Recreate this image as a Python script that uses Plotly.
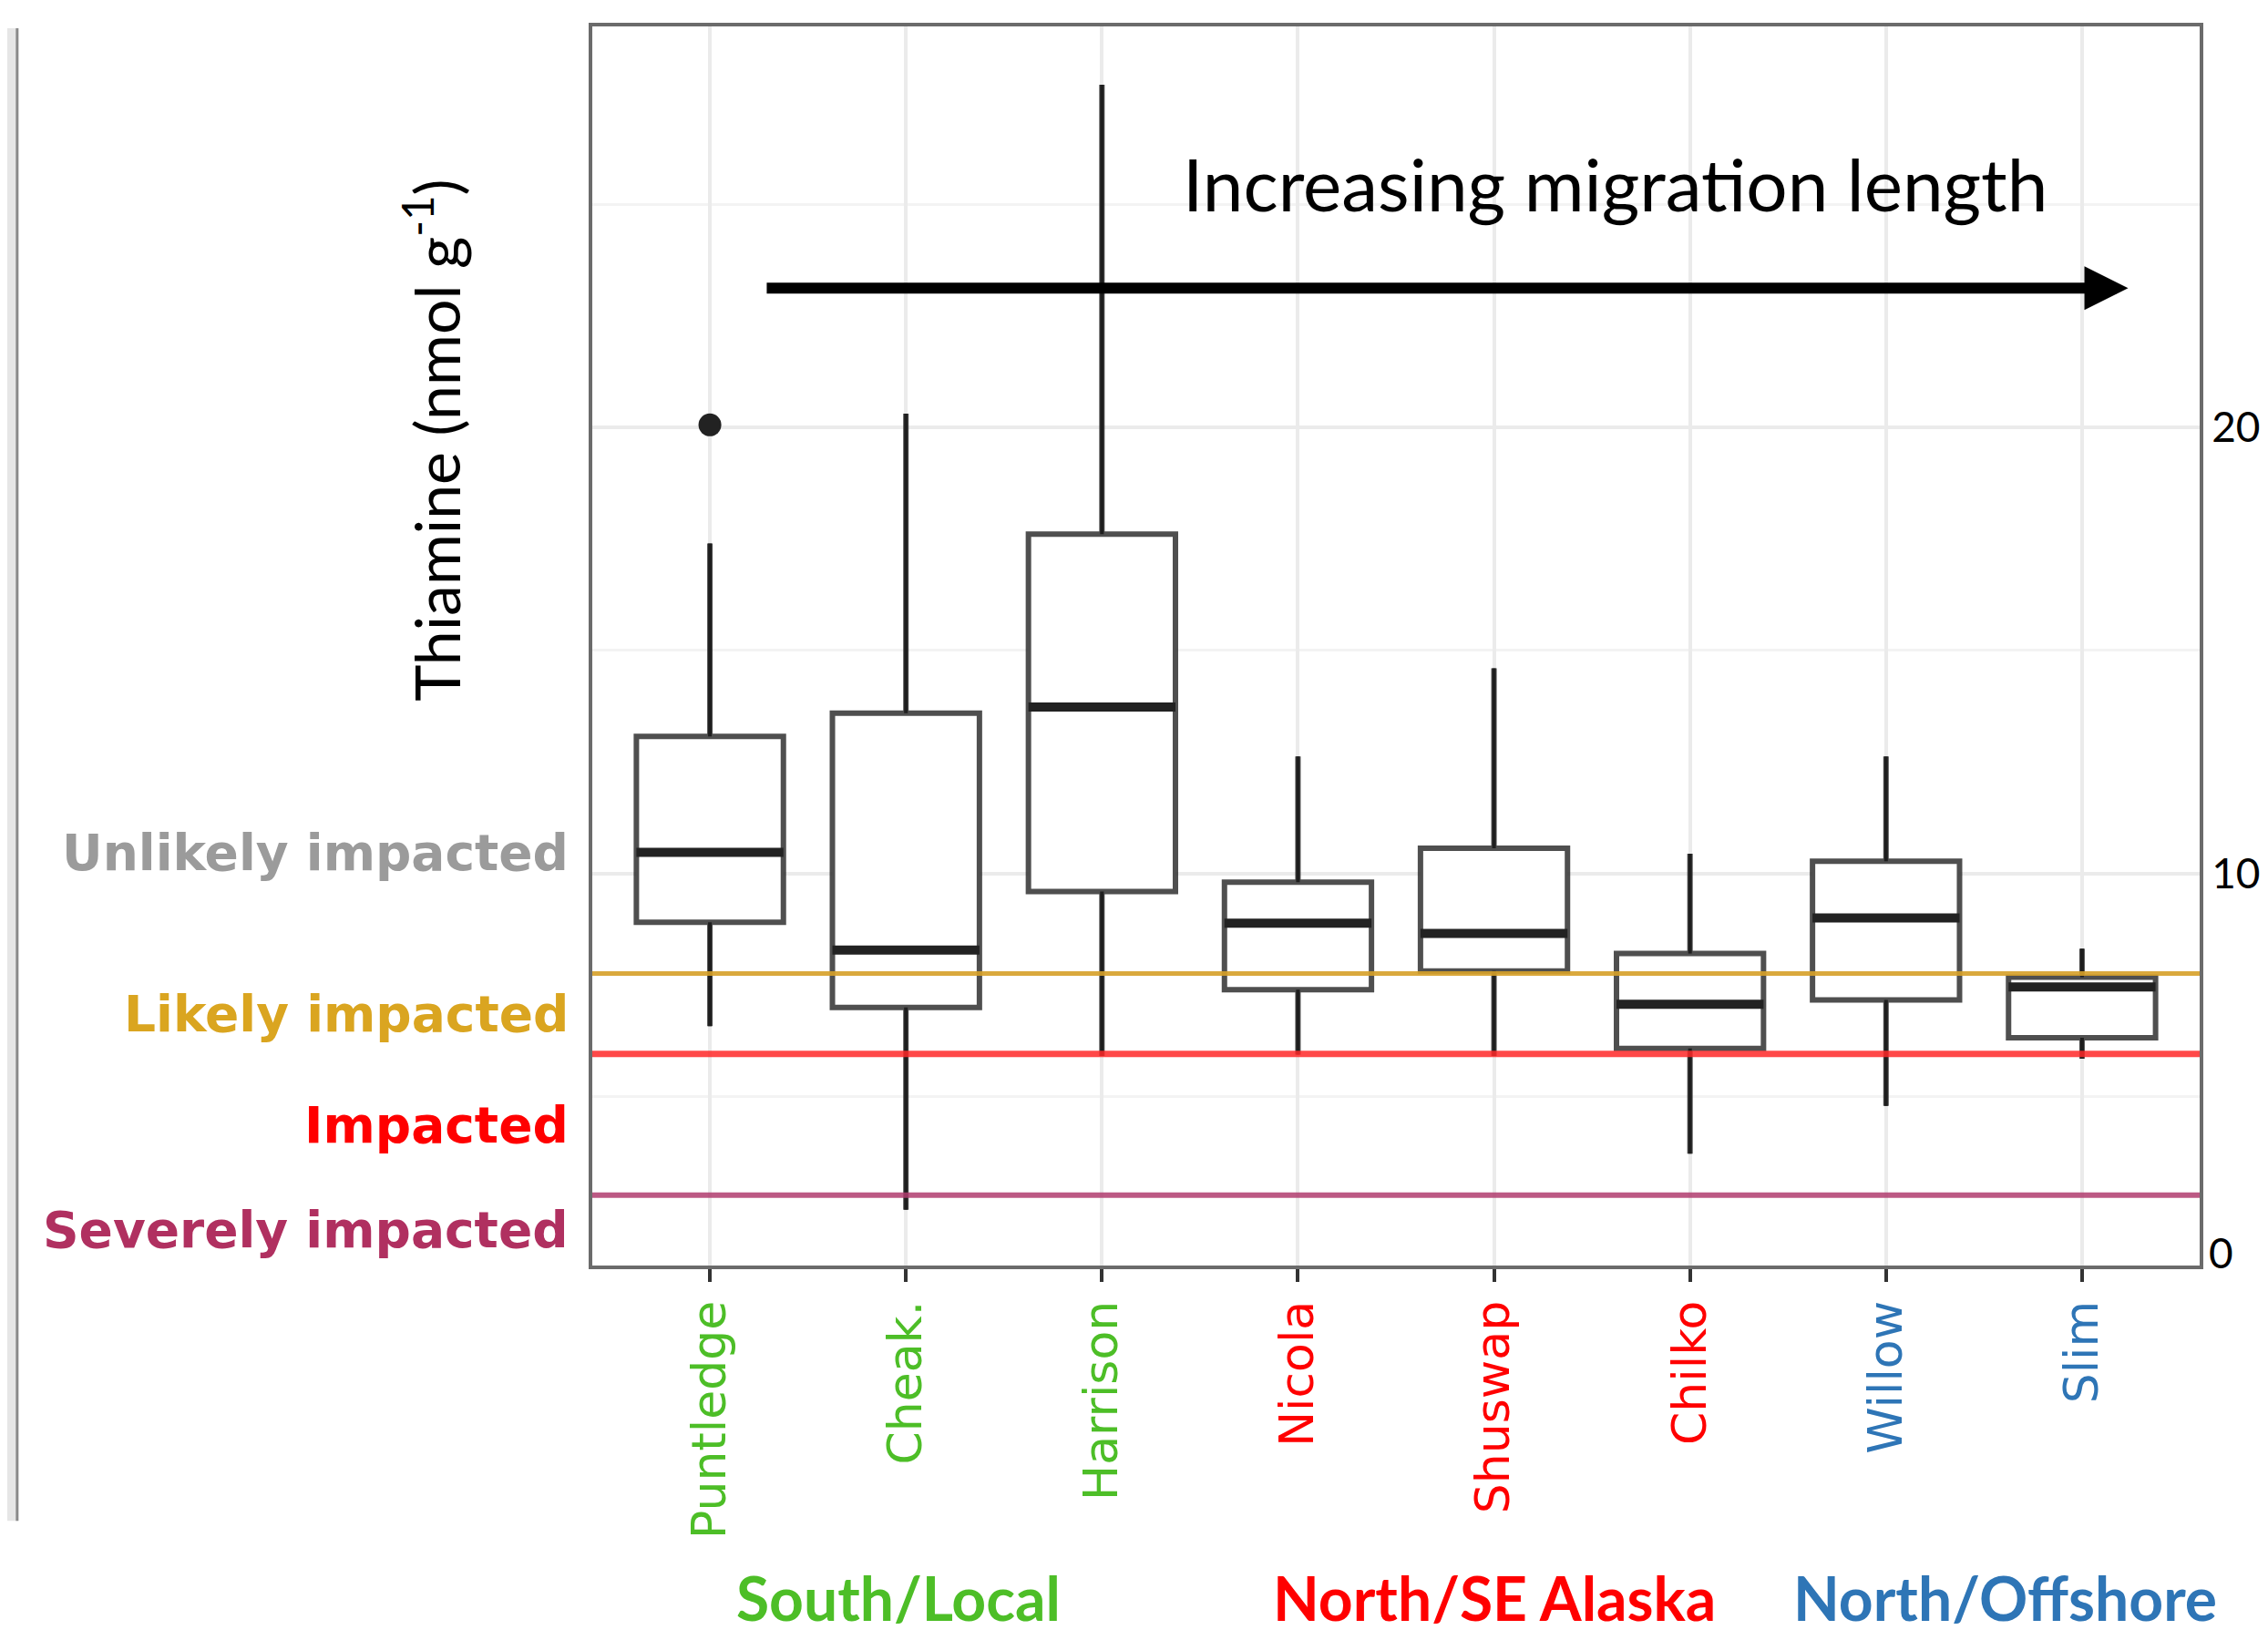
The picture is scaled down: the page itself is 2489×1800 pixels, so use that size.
import plotly.graph_objects as go

# ---- data ----
sites = ["Puntledge", "Cheak.", "Harrison", "Nicola", "Shuswap", "Chilko", "Willow", "Slim"]
site_colors = ["#4DBE27", "#4DBE27", "#4DBE27", "#FF0000", "#FF0000", "#FF0000", "#2E75B6", "#2E75B6"]
lower_whisker = [6.57, 2.45, 5.90, 5.93, 5.90, 3.71, 4.78, 5.84]
q1 = [8.90, 6.99, 9.59, 7.39, 7.81, 6.07, 7.16, 6.31]
median = [10.47, 8.28, 13.73, 8.88, 8.65, 7.06, 9.00, 7.45]
q3 = [13.07, 13.59, 17.61, 9.80, 10.56, 8.20, 10.27, 7.67]
upper_whisker = [17.40, 20.31, 27.69, 12.62, 14.60, 10.44, 12.62, 8.31]
outlier_site = [0]
outlier_value = [20.06]

threshold_names = ["Unlikely impacted", "Likely impacted", "Impacted", "Severely impacted"]
threshold_colors = ["#9B9B9B", "#DAA520", "#FF0000", "#B03060"]
threshold_values = [None, 7.75, 5.95, 2.78]
threshold_label_y = [10.45, 6.85, 4.34, 2.0]

groups = ["South/Local", "North/SE Alaska", "North/Offshore"]
group_colors = ["#4DBE27", "#FF0000", "#2E75B6"]
group_x = [0.1907, 0.561, 0.8787]

y_ticks = [10, 20]
box_width = 0.75
pos = list(range(len(sites)))

fig = go.Figure()

# threshold lines
line_styles = {"#DAA520": ("rgba(214,160,40,0.9)", 5), "#FF0000": ("rgba(255,40,40,0.85)", 7),
               "#B03060": ("rgba(176,60,110,0.85)", 6)}
for v, c in zip(threshold_values, threshold_colors):
    if v is None:
        continue
    col, w = line_styles[c]
    fig.add_shape(type="line", xref="paper", yref="y", x0=0, x1=1, y0=v, y1=v,
                  line=dict(color=col, width=w), layer="above")

fig.add_trace(go.Box(
    x=pos, q1=q1, median=median, q3=q3, lowerfence=lower_whisker, upperfence=upper_whisker,
    width=box_width, whiskerwidth=0, fillcolor="white",
    line=dict(color="rgba(40,40,40,0.82)", width=6), boxpoints=False, showlegend=False,
))

# whiskers (thin dark) and thick medians
wx, wy, mx, my = [], [], [], []
for i in pos:
    wx += [i, i, None, i, i, None]
    wy += [lower_whisker[i], q1[i], None, q3[i], upper_whisker[i], None]
    mx += [i - box_width / 2, i + box_width / 2, None]
    my += [median[i], median[i], None]
fig.add_trace(go.Scatter(x=wx, y=wy, mode="lines", line=dict(color="#1e1e1e", width=4),
                         showlegend=False, hoverinfo="skip"))
fig.add_trace(go.Scatter(x=mx, y=my, mode="lines", line=dict(color="#222222", width=10),
                         showlegend=False, hoverinfo="skip"))
fig.add_trace(go.Scatter(x=outlier_site, y=outlier_value, mode="markers",
                         marker=dict(color="#222222", size=25), showlegend=False))

ticktext = [f'<span style="color:{c}">{s}</span>' for s, c in zip(sites, site_colors)]

fig.update_layout(
    width=2485, height=1796,
    margin=dict(l=642, r=71, t=21, b=415),
    paper_bgcolor="white", plot_bgcolor="white",
    font=dict(family="DejaVu Sans", color="black"),
    xaxis=dict(
        range=[-0.6, 7.6], tickvals=pos, ticktext=ticktext, tickangle=-90,
        tickfont=dict(family="DejaVu Sans", size=52),
        showgrid=True, gridcolor="#EBEBEB", gridwidth=4,
        ticks="outside", ticklen=14, tickwidth=4, tickcolor="#333333",
        showline=True, linecolor="#6B6B6B", linewidth=4, mirror=True, zeroline=False,
    ),
    yaxis=dict(
        range=[1.2, 29.0], side="right", tickvals=y_ticks,
        tickfont=dict(family="Lato", size=46),
        showgrid=True, gridcolor="#EBEBEB", gridwidth=4,
        minor=dict(dtick=5, tick0=0, showgrid=True, gridcolor="#F3F3F3", gridwidth=3),
        ticks="", showline=True, linecolor="#6B6B6B", linewidth=4, mirror=True, zeroline=False,
    ),
)

# "0" label at the bottom of the right axis
fig.add_annotation(text="0", xref="paper", yref="paper", x=1, y=0.011, xanchor="left",
                   yanchor="middle", xshift=8, showarrow=False,
                   font=dict(family="Lato", size=46, color="black"))

# y axis title
fig.add_annotation(text="Thiamine (nmol g<sup>-1</sup>)", xref="paper", yref="paper",
                   x=-0.0995, y=0.666, xanchor="center", yanchor="middle",
                   textangle=-90, showarrow=False,
                   font=dict(family="Lato", size=68, color="black"))

# threshold labels
for name, c, ly in zip(threshold_names, threshold_colors, threshold_label_y):
    fig.add_annotation(text=f"<b>{name}</b>", xref="paper", yref="y", x=-0.0135, y=ly,
                       xanchor="right", yanchor="middle", showarrow=False,
                       font=dict(family="DejaVu Sans", size=55, color=c))

# arrow and its caption
fig.add_annotation(x=7.235, y=23.13, ax=0.283, ay=23.13, xref="x", yref="y", axref="x", ayref="y",
                   text="", showarrow=True, arrowhead=2, arrowsize=0.8, arrowwidth=12,
                   arrowcolor="black")
fig.add_annotation(text="Increasing migration length", x=4.62, y=25.48, xref="x", yref="y",
                   xanchor="center", yanchor="middle",
                   showarrow=False, font=dict(family="Lato", size=80, color="black"))

# group labels
for g, c, gx in zip(groups, group_colors, group_x):
    fig.add_annotation(text=f"<b>{g}</b>", xref="paper", yref="paper", x=gx, y=-0.268,
                       xanchor="center", yanchor="middle",
                       showarrow=False, font=dict(family="Lato", size=66, color=c))

# edge of neighbouring panel at far left
fig.add_shape(type="rect", xref="paper", yref="paper", x0=-0.3646, x1=-0.3578, y0=-0.206, y1=0.9985,
              fillcolor="#E6E6E6", line=dict(width=0), layer="below")
fig.add_shape(type="line", xref="paper", yref="paper", x0=-0.3578, x1=-0.3578, y0=-0.206, y1=0.9985,
              line=dict(color="#8A8A8A", width=3))

fig.write_html("out.html")
